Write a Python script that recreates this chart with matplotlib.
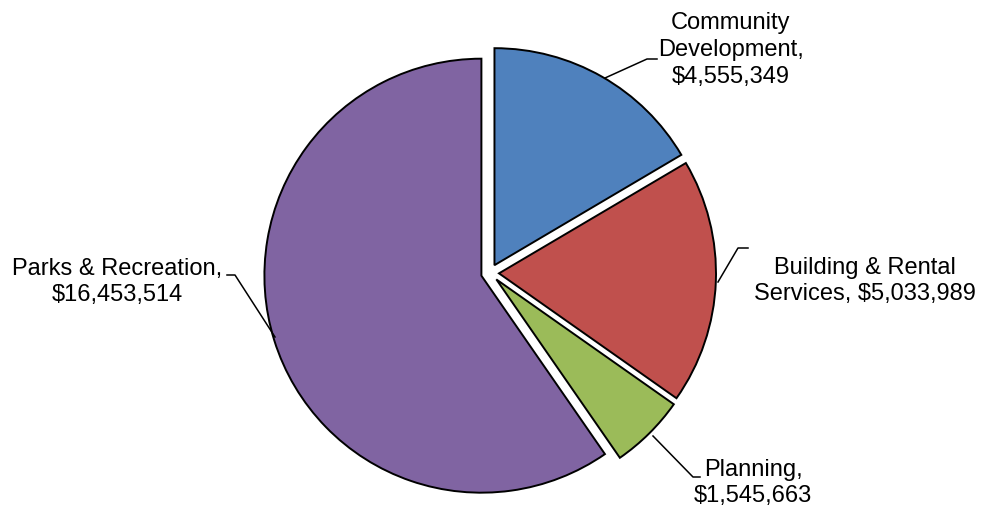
import matplotlib.pyplot as plt

plt.rcParams['font.family'] = ['Liberation Sans', 'DejaVu Sans']

# Budget by division
names = ['Community\nDevelopment,', 'Building & Rental\nServices,', 'Planning,', 'Parks & Recreation,']
values = [4555349, 5033989, 1545663, 16453514]
colors = ['#4F81BD', '#C0504D', '#9BBB59', '#8064A2']

# label text centres and leader lines (pixel space, y down)
label_pos = [(731, 50), (865, 281), (753, 483), (117, 282)]
leaders = [
    [(605, 78), (647, 59), (657, 59)],
    [(718, 282), (738, 248), (748, 248)],
    [(653, 436), (693, 477), (700, 477)],
    [(275, 337), (235, 275), (227, 275)],
]

W, H = 983, 512
fig = plt.figure(figsize=(W / 100, H / 100), dpi=100)
ax = fig.add_axes([0, 0, 1, 1])

# explode is in data units (pixels here)
ax.pie(values, center=(490, H - 273), radius=217, startangle=90, counterclock=False,
       explode=[9] * len(values), colors=colors,
       wedgeprops=dict(edgecolor='black', linewidth=1.4))

for name, v, (x, y) in zip(names, values, label_pos):
    if name.startswith('Building'):
        txt = 'Building & Rental\nServices, ${:,}'.format(v)
    else:
        txt = name + '\n${:,}'.format(v)
    ax.text(x, H - y, txt, ha='center', va='center', fontsize=17, linespacing=1.28)

for pts in leaders:
    ax.plot([p[0] for p in pts], [H - p[1] for p in pts], color='black', lw=1.1)

ax.set_xlim(0, W)
ax.set_ylim(0, H)
ax.axis('off')

fig.savefig('out.png', dpi=100)
